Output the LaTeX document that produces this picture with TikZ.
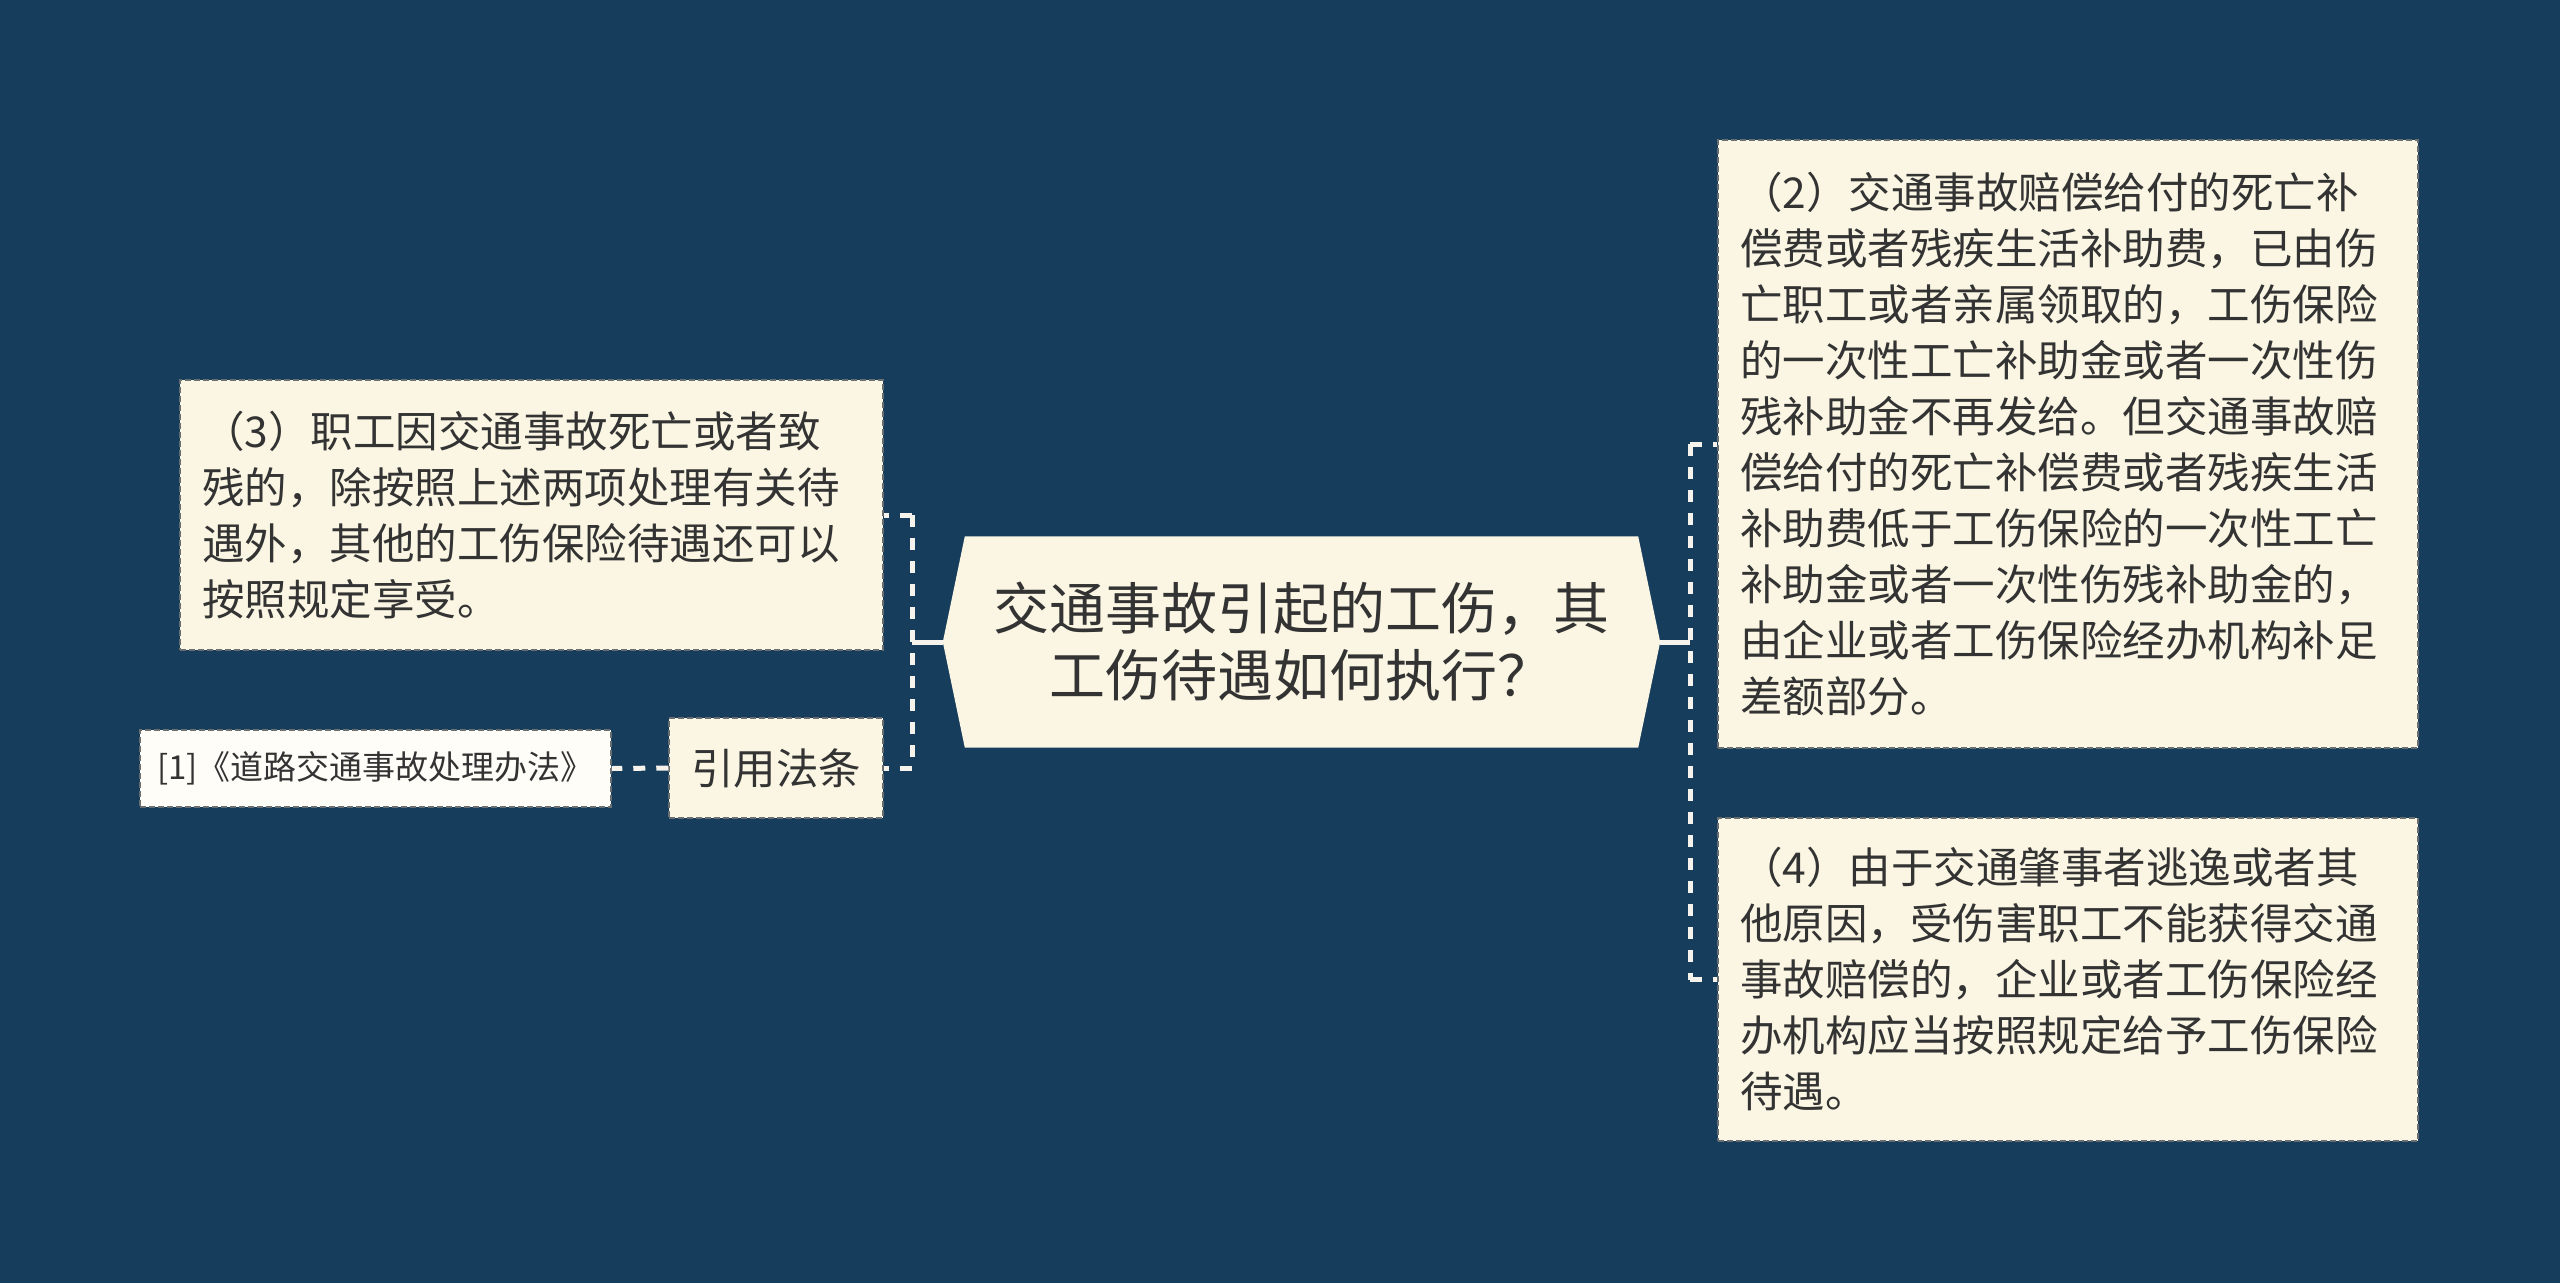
\documentclass[tikz,border=0pt]{standalone}
\usepackage{fontspec}
\setmainfont{Noto Sans CJK SC}
\usetikzlibrary{calc}
\definecolor{bg}{RGB}{23,61,92}
\definecolor{cream}{RGB}{250,246,227}
\definecolor{paper}{RGB}{255,253,247}
\definecolor{txt}{RGB}{51,51,51}
\definecolor{edge}{RGB}{105,110,112}
\definecolor{wire}{RGB}{245,243,236}
\tikzset{
  box/.style={draw=edge, fill=cream, line width=1.5pt, dash pattern=on 6pt off 3pt,
    inner xsep=22pt, inner ysep=0pt, align=left, text=txt,
    font=\fontsize{42.5}{56}\selectfont},
  wire/.style={draw=wire, line width=5pt, dash pattern=on 12pt off 11pt},
  solidwire/.style={draw=wire, line width=5pt},
}
\begin{document}
\begin{tikzpicture}[x=1pt,y=-1pt]
\fill[bg] (0,0) rectangle (2560,1283);
\useasboundingbox (0,0) rectangle (2560,1283);

% central node
\node[minimum width=673pt, minimum height=211pt, inner sep=0pt] (c) at (1301.5,642) {};
\fill[cream] (c.north west) -- (c.north east) -- ([xshift=22pt]c.east) -- (c.south east)
  -- (c.south west) -- ([xshift=-22pt]c.west) -- cycle;
\node[align=center, text=txt, font=\fontsize{56}{67}\selectfont] (ct) at (c.center)
  {交通事故引起的工伤，其\\工伤待遇如何执行？};
\coordinate (cw) at ([xshift=-22pt]c.west);
\coordinate (ce) at ([xshift=22pt]c.east);

% left nodes
\node[box, minimum width=703pt, minimum height=270pt, text width=659pt] (n3) at (531.5,515)
  {（3）职工因交通事故死亡或者致\\残的，除按照上述两项处理有关待\\遇外，其他的工伤保险待遇还可以\\按照规定享受。};
\node[box, minimum width=214pt, minimum height=100pt, align=center, inner xsep=0pt] (law) at (776,768) {引用法条};
\node[box, fill=paper, minimum width=471pt, minimum height=77pt, align=center, inner xsep=0pt,
  font=\fontsize{33}{40}\selectfont] (ref) at (375.5,768.5) {[1]《道路交通事故处理办法》};

% right nodes
\node[box, minimum width=700pt, minimum height=608pt, text width=656pt] (n2) at (2068,444)
  {（2）交通事故赔偿给付的死亡补\\偿费或者残疾生活补助费，已由伤\\亡职工或者亲属领取的，工伤保险\\的一次性工亡补助金或者一次性伤\\残补助金不再发给。但交通事故赔\\偿给付的死亡补偿费或者残疾生活\\补助费低于工伤保险的一次性工亡\\补助金或者一次性伤残补助金的，\\由企业或者工伤保险经办机构补足\\差额部分。};
\node[box, minimum width=700pt, minimum height=323pt, text width=656pt] (n4) at (2068,979.5)
  {（4）由于交通肇事者逃逸或者其\\他原因，受伤害职工不能获得交通\\事故赔偿的，企业或者工伤保险经\\办机构应当按照规定给予工伤保险\\待遇。};

% connectors
\coordinate (sl) at (912,642);
\coordinate (sr) at (1690,642);
\draw[solidwire] (cw) -- (sl);
\draw[wire] (sl |- n3.east) -- (sl |- law.east);
\draw[wire] (sl |- n3.east) -- (n3.east);
\draw[wire] (sl |- law.east) -- (law.east);
\draw[solidwire] (ce) -- (sr);
\draw[wire] (sr |- n2.west) -- (sr |- n4.west);
\draw[wire] (sr |- n2.west) -- (n2.west);
\draw[wire] (sr |- n4.west) -- (n4.west);
\draw[wire] (law.west) -- (ref.east);
\end{tikzpicture}
\end{document}
